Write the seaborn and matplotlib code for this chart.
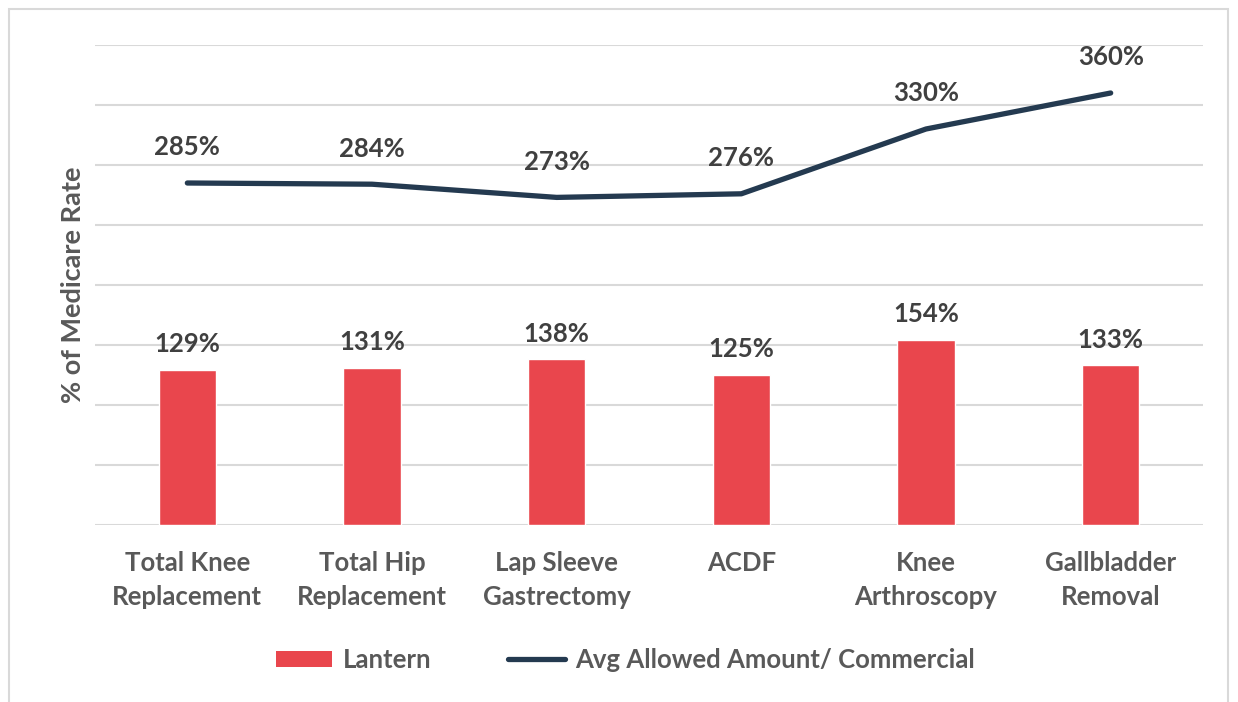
import matplotlib
matplotlib.use("Agg")
import matplotlib.pyplot as plt
import seaborn as sns
import pandas as pd
import numpy as np
from matplotlib.patches import Rectangle, Patch
from matplotlib.lines import Line2D

# Data
procedures = ["Total Knee\nReplacement", "Total Hip\nReplacement", "Lap Sleeve\nGastrectomy",
              "ACDF", "Knee\nArthroscopy", "Gallbladder\nRemoval"]
lantern = [129, 131, 138, 125, 154, 133]
commercial = [285, 284, 273, 276, 330, 360]

bar_color = "#E9464D"
line_color = "#243A50"
text_color = "#595959"
grid_color = "#D9D9D9"
fs = 18.5

sns.set_theme(style="white")
plt.rcParams["font.family"] = ["Lato", "DejaVu Sans"]

df = pd.DataFrame({"procedure": procedures, "Lantern": lantern,
                   "Commercial": commercial})

fig = plt.figure(figsize=(12.38, 7.02), dpi=100)
ax = fig.add_axes([95 / 1238, 1 - 525 / 702, 1108 / 1238, 480 / 702])

sns.barplot(data=df, x="procedure", y="Lantern", color=bar_color,
            width=0.31, saturation=1, ax=ax, zorder=2)
x_pos = np.arange(len(procedures))
sns.lineplot(x=x_pos, y=commercial, color=line_color, linewidth=3.8,
             ax=ax, zorder=3, solid_capstyle="round")

ax.set_ylim(0, 400)
ax.set_xlim(-0.5, len(procedures) - 0.5)
ax.set_yticks(np.arange(0, 401, 50))
ax.yaxis.grid(True, color=grid_color, linewidth=1.5, zorder=0)
ax.set_axisbelow(True)
ax.tick_params(axis="y", left=False, labelleft=False)
ax.tick_params(axis="x", bottom=False, labelsize=fs, labelcolor=text_color, pad=13)
for lbl in ax.get_xticklabels():
    lbl.set_fontweight("bold")
    lbl.set_linespacing(1.5)
for s in ax.spines.values():
    s.set_visible(False)

ax.set_xlabel("")
ax.set_ylabel("% of Medicare Rate", fontsize=19.5, fontweight="bold", color=text_color,
              labelpad=7)

for i, v in enumerate(lantern):
    ax.annotate(f"{v}%", (i, v), xytext=(0, 10), textcoords="offset points",
                ha="center", va="bottom", fontsize=fs, fontweight="bold",
                color="#404040")
for i, v in enumerate(commercial):
    ax.annotate(f"{v}%", (i, v), xytext=(0, 17), textcoords="offset points",
                ha="center", va="bottom", fontsize=fs, fontweight="bold",
                color="#404040")

handles = [Patch(facecolor=bar_color, edgecolor="none"),
           Line2D([0], [0], color=line_color, linewidth=3.8, solid_capstyle="round")]
leg = fig.legend(handles, ["Lantern", "Avg Allowed Amount/ Commercial"],
                 loc="center", bbox_to_anchor=(0.505, 1 - 660 / 702), ncol=2,
                 frameon=False, fontsize=fs, handlelength=2.2, handleheight=0.6,
                 columnspacing=3.0, handletextpad=0.4)
for t in leg.get_texts():
    t.set_color(text_color)
    t.set_fontweight("bold")

# outer border like the source chart frame
fig.patches.append(Rectangle((9 / 1238, -0.01), 1219 / 1238, 1 - 9 / 702 + 0.01,
                             transform=fig.transFigure, fill=False,
                             edgecolor="#D9D9D9", linewidth=1.5))

fig.savefig("out.png", dpi=100)
